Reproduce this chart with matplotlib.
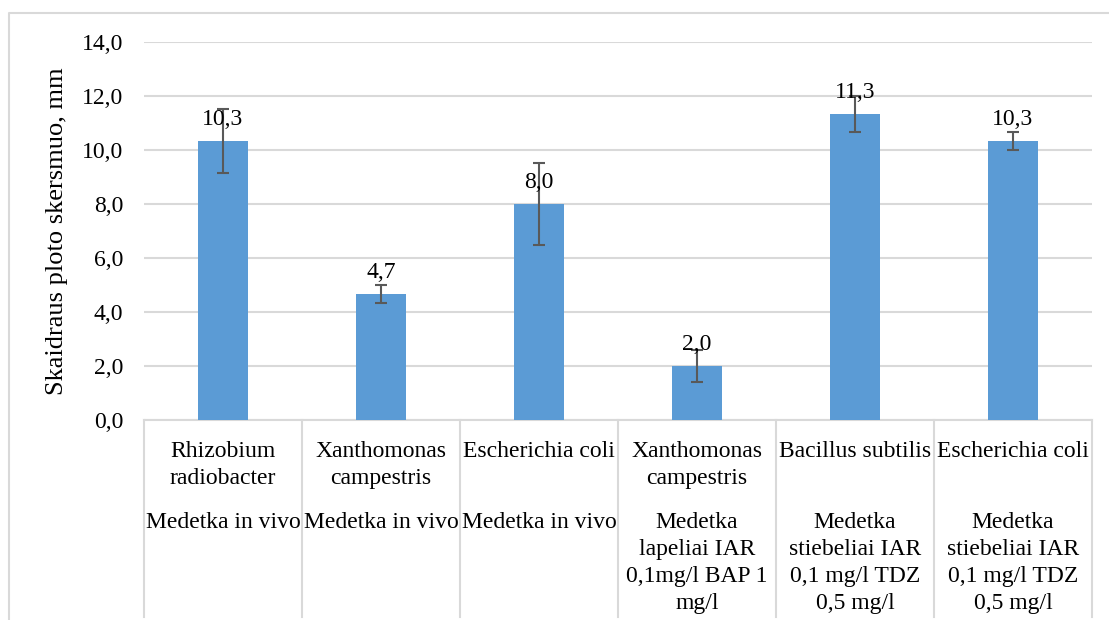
import matplotlib
matplotlib.use("Agg")
import matplotlib.pyplot as plt
from matplotlib.lines import Line2D
from matplotlib.transforms import blended_transform_factory

plt.rcParams['font.family'] = ['Liberation Serif', 'DejaVu Serif']

# Bacteria (upper label row) and explant / medium (lower label row)
bacteria = [
    "Rhizobium\nradiobacter",
    "Xanthomonas\ncampestris",
    "Escherichia coli",
    "Xanthomonas\ncampestris",
    "Bacillus subtilis",
    "Escherichia coli",
]
explants = [
    "Medetka in vivo",
    "Medetka in vivo",
    "Medetka in vivo",
    "Medetka\nlapeliai IAR\n0,1mg/l BAP 1\nmg/l",
    "Medetka\nstiebeliai IAR\n0,1 mg/l TDZ\n0,5 mg/l",
    "Medetka\nstiebeliai IAR\n0,1 mg/l TDZ\n0,5 mg/l",
]
diameter_mm = [10.33, 4.67, 8.0, 2.0, 11.33, 10.33]
error_mm = [1.2, 0.33, 1.53, 0.58, 0.67, 0.33]
y_ticks = [0, 2, 4, 6, 8, 10, 12, 14]

W, H = 1109, 620
fig = plt.figure(figsize=(W / 100, H / 100), dpi=100)
ax = fig.add_axes([144 / W, 1 - 420 / H, (1092 - 144) / W, (420 - 42) / H])

x = list(range(len(diameter_mm)))
bar_color = "#5b9bd5"
grid_color = "#d9d9d9"
txt_size = 17

ax.bar(x, diameter_mm, width=0.316, color=bar_color, zorder=3)
ax.errorbar(x, diameter_mm, yerr=error_mm, fmt="none", ecolor="#595959",
            elinewidth=1.5, capsize=4.5, capthick=1.5, zorder=4)

for xi, v in zip(x, diameter_mm):
    ax.annotate(f"{v:.1f}".replace(".", ","), (xi, v), xytext=(0, 8),
                textcoords="offset points", ha="center", va="bottom",
                fontsize=txt_size, color="#000000", zorder=5)

ax.set_xlim(-0.5, len(x) - 0.5)
ax.set_ylim(0, 14)
ax.set_yticks(y_ticks)
ax.set_yticklabels([f"{t:.1f}".replace(".", ",") for t in y_ticks],
                   fontsize=txt_size)
ax.tick_params(axis="y", length=0, pad=15)
ax.set_xticks([])
ax.yaxis.grid(True, color=grid_color, linewidth=1.5, zorder=0)
ax.set_axisbelow(True)
for side in ["top", "right", "left"]:
    ax.spines[side].set_visible(False)
ax.spines["bottom"].set_color(grid_color)
ax.spines["bottom"].set_linewidth(1.5)

# Category separators running down through both label rows
trans = blended_transform_factory(ax.transData, fig.transFigure)
for b in range(len(x) + 1):
    ax.add_line(Line2D([b - 0.5, b - 0.5], [1 - 617 / H, 1 - 420 / H],
                       transform=trans, color=grid_color, linewidth=1.5,
                       clip_on=False))

for xi, lab in zip(x, bacteria):
    ax.text(xi, 1 - 441 / H, lab, transform=trans, ha="center", va="top",
            fontsize=txt_size, linespacing=1.37)
for xi, lab in zip(x, explants):
    ax.text(xi, 1 - 512 / H, lab, transform=trans, ha="center", va="top",
            fontsize=txt_size, linespacing=1.37)

fig.text(57 / W, 1 - 231 / H, "Skaidraus ploto skersmuo, mm", rotation=90,
         ha="center", va="center", fontsize=19)

# Chart frame (left and top edges)
fig.add_artist(Line2D([9 / W, 9 / W, 1.0], [0.0, 1 - 13 / H, 1 - 13 / H],
                      transform=fig.transFigure, color=grid_color,
                      linewidth=1.5))

fig.savefig("out.png", dpi=100)
